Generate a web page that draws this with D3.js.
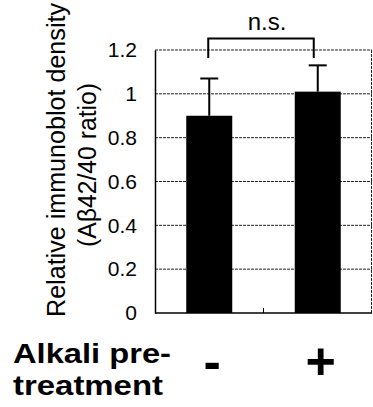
<!DOCTYPE html>
<html>
<head>
<meta charset="utf-8">
<script src="https://cdn.jsdelivr.net/npm/d3@7"></script>
<style>
  body { margin: 0; background: #fff; }
  text { font-family: "Liberation Sans", Arial, sans-serif; fill: #000; }
</style>
</head>
<body>
<script>
const categories = ["-", "+"];
const means = [0.9, 1.01];
const upperErr = [0.17, 0.12];
const yTicks = [0, 0.2, 0.4, 0.6, 0.8, 1, 1.2];
const sigLabel = "n.s.";

const w = 373;
const h = 407;
const padL = 155, padR = 372, padT = 50, padB = 313;

const svg = d3.select("body")
              .append("svg")
              .attr("width", w)
              .attr("height", h);

const x = d3.scaleBand()
            .domain(categories)
            .range([padL, padR]);
const y = d3.scaleLinear()
            .domain([0, 1.2])
            .range([padB, padT]);

const bw = 46;
const cx = (c) => x(c) + x.bandwidth() / 2;

// dotted gridlines (top one doubles as the frame)
svg.selectAll("line.grid")
   .data(yTicks.filter(d => d > 0))
   .enter()
   .append("line")
   .attr("class", "grid")
   .attr("x1", padL).attr("x2", padR)
   .attr("y1", d => y(d)).attr("y2", d => y(d))
   .attr("stroke", "#222")
   .attr("stroke-width", 1)
   .attr("stroke-dasharray", "3,1");

// right frame
svg.append("line")
   .attr("x1", padR - 0.5).attr("x2", padR - 0.5)
   .attr("y1", padT).attr("y2", padB)
   .attr("stroke", "#222")
   .attr("stroke-dasharray", "3,1");

// error bars (upper only)
const eb = svg.selectAll("g.err")
   .data(categories)
   .enter()
   .append("g");
eb.append("line")
  .attr("x1", cx).attr("x2", cx)
  .attr("y1", (d, i) => y(means[i]))
  .attr("y2", (d, i) => y(means[i] + upperErr[i]))
  .attr("stroke", "#000").attr("stroke-width", 2);
eb.append("line")
  .attr("x1", d => cx(d) - 9).attr("x2", d => cx(d) + 9)
  .attr("y1", (d, i) => y(means[i] + upperErr[i]))
  .attr("y2", (d, i) => y(means[i] + upperErr[i]))
  .attr("stroke", "#000").attr("stroke-width", 2);

// bars
svg.selectAll("rect")
   .data(categories)
   .enter()
   .append("rect")
   .attr("x", d => cx(d) - bw / 2)
   .attr("y", (d, i) => y(means[i]))
   .attr("width", bw)
   .attr("height", (d, i) => padB - y(means[i]))
   .attr("fill", "#000");

// y axis
const yAxis = d3.axisLeft(y)
                .tickValues(yTicks)
                .tickFormat(d => String(d))
                .tickSize(0)
                .tickPadding(18);
const gy = svg.append("g")
   .attr("transform", "translate(" + padL + ",0)")
   .call(yAxis);
gy.select(".domain").attr("stroke", "#000").attr("stroke-width", 1.5);
gy.selectAll("text")
  .style("font-size", "21px")
  .style("font-family", "Liberation Sans, Arial, sans-serif");

// bottom axis line + middle tick
svg.append("line")
   .attr("x1", padL).attr("x2", padR)
   .attr("y1", padB).attr("y2", padB)
   .attr("stroke", "#000").attr("stroke-width", 1.5);
svg.append("line")
   .attr("x1", x(categories[1])).attr("x2", x(categories[1]))
   .attr("y1", padB).attr("y2", padB - 5)
   .attr("stroke", "#000");

// significance bracket
const bx1 = cx(categories[0]) - 1, bx2 = cx(categories[1]) - 4;
svg.append("path")
   .attr("d", "M" + bx1 + ",58V38.5H" + bx2 + "V58")
   .attr("fill", "none")
   .attr("stroke", "#000")
   .attr("stroke-width", 2);
svg.append("text")
   .attr("x", (bx1 + bx2) / 2 + 6)
   .attr("y", 30)
   .attr("text-anchor", "middle")
   .style("font-size", "24px")
   .text(sigLabel);

// y title
const tg = svg.append("g").attr("transform", "translate(0,160) rotate(-90)");
tg.append("text")
  .attr("x", 0).attr("y", 65)
  .attr("text-anchor", "middle")
  .attr("textLength", 314)
  .attr("lengthAdjust", "spacingAndGlyphs")
  .style("font-size", "25px")
  .text("Relative immunoblot density");
tg.append("text")
  .attr("x", -5).attr("y", 96)
  .attr("text-anchor", "middle")
  .attr("textLength", 164)
  .attr("lengthAdjust", "spacingAndGlyphs")
  .style("font-size", "25px")
  .text("(Aβ42/40 ratio)");

// x labels
svg.append("text")
   .attr("x", 13).attr("y", 363)
   .attr("textLength", 158)
   .attr("lengthAdjust", "spacingAndGlyphs")
   .style("font-size", "28px").style("font-weight", "bold")
   .text("Alkali pre-");
svg.append("text")
   .attr("x", 13).attr("y", 395)
   .attr("textLength", 150)
   .attr("lengthAdjust", "spacingAndGlyphs")
   .style("font-size", "28px").style("font-weight", "bold")
   .text("treatment");
svg.selectAll("text.cat")
   .data(categories)
   .enter()
   .append("text")
   .attr("class", "cat")
   .attr("x", d => cx(d) + 3)
   .attr("y", 379)
   .attr("text-anchor", "middle")
   .style("font-size", "52px").style("font-weight", "bold")
   .text(d => d);
</script>
</body>
</html>
